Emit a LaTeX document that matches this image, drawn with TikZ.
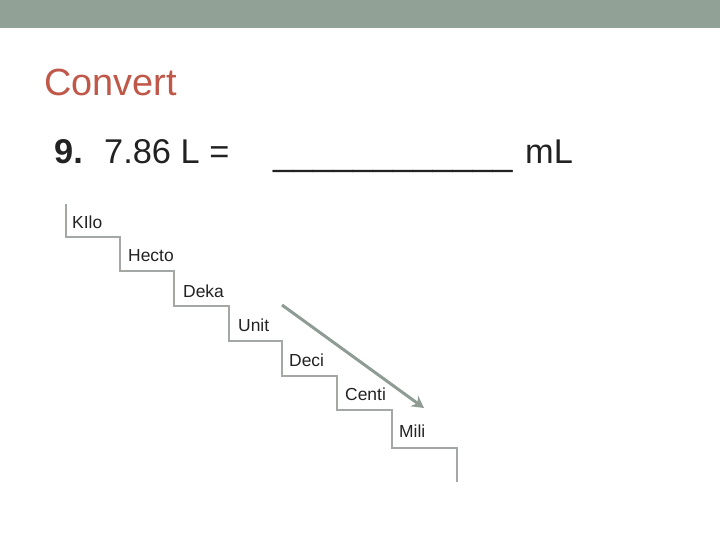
\documentclass[tikz,border=0pt]{standalone}
\usepackage{fontspec}
\setmainfont{Liberation Sans}
\usetikzlibrary{arrows.meta}
\definecolor{band}{HTML}{91A196}
\definecolor{titlered}{HTML}{C0584A}
\definecolor{stairgray}{HTML}{A3A8A5}
\definecolor{arrowgray}{HTML}{8E9C94}
\definecolor{labeltext}{HTML}{222222}
\begin{document}
\begin{tikzpicture}[x=1bp,y=-1bp,
  lbl/.style={anchor=west, inner sep=0, font=\fontsize{17.5}{20}\selectfont, text=labeltext},
  big/.style={anchor=base west, inner sep=0, font=\fontsize{34.5}{40}\selectfont, text=labeltext}]
\useasboundingbox (0,0) rectangle (720,540);
\fill[band] (0,0) rectangle (720,28);
\node[anchor=base west, inner sep=0, text=titlered, font=\fontsize{38}{44}\selectfont] (title) at (44,96) {Convert};
\node[big] (num) at (54,164) {\textbf{9.}};
\node[big] (expr) at (104,164) {7.86 L =};
\node[big, font=\fontsize{36}{40}\selectfont] (blank) at (273,166) {\_\_\_\_\_\_\_\_\_\_\_\_};
\node[big] (unit) at (525,164) {mL};
\draw[stairgray, line width=1.2bp] (66,204) |- (120,237) |- (174,271) |- (229,306)
  |- (282,341) |- (337,376) |- (392,410) |- (457,448) -- (457,482);
\node[lbl] (kilo) at (72,222) {KIlo};
\node[lbl] (hecto) at (128,256) {Hecto};
\node[lbl] (deka) at (183,291) {Deka};
\node[lbl] (unitstep) at (238,325) {Unit};
\node[lbl] (deci) at (289,360) {Deci};
\node[lbl] (centi) at (345,394) {Centi};
\node[lbl] (mili) at (399,431) {Mili};
\coordinate (as) at (282,305);
\coordinate (ae) at (424,408);
\draw[arrowgray, line width=3bp, -{Stealth[length=12bp,width=13bp,inset=4bp]}] (as) -- (ae);
\end{tikzpicture}
\end{document}
